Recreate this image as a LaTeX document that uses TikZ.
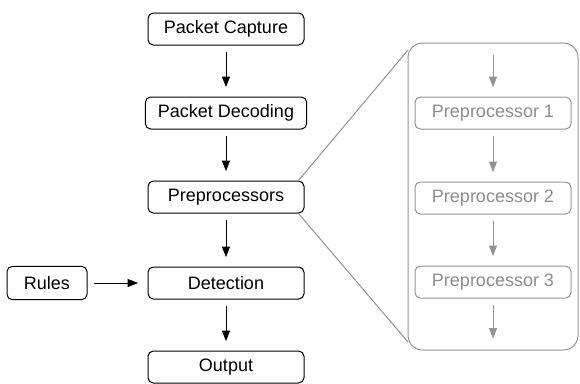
\documentclass[tikz,border=0pt]{standalone}
\usepackage{fontspec}
\setmainfont{Liberation Sans}
\usetikzlibrary{arrows.meta,calc}
\tikzset{
  stage/.style={draw, rounded corners=4pt, line width=0.75pt, minimum width=117pt, minimum height=24pt, inner sep=2pt, font=\fontsize{13.5}{15}\selectfont},
  substage/.style={stage, draw=gray!85, text=gray!90},
  flow/.style={-{Triangle[length=8pt,width=6pt]}, line width=0.75pt, shorten <=5pt, shorten >=7pt},
  subflow/.style={flow, draw=gray!85, fill=gray!85}
}
\begin{document}
\begin{tikzpicture}[x=0.75pt,y=-0.75pt]
\useasboundingbox (0,0) rectangle (580,383);
% main pipeline
\node[stage] (capture) at (226,29) {Packet Capture};
\node[stage, minimum width=121pt] (decode) at (226,113) {Packet Decoding};
\node[stage] (prep) at (226,197) {Preprocessors};
\node[stage] (detect) at (226,283) {Detection};
\node[stage] (output) at (226,367) {Output};
\node[stage, minimum width=60pt, minimum height=25pt] (rules) at (47,283) {Rules};
\draw[flow] (capture) -- (decode);
\draw[flow] (decode) -- (prep);
\draw[flow] (prep) -- (detect);
\draw[flow] (detect) -- (output);
\draw[flow] (rules) -- (detect);
% zoomed preprocessors
\draw[gray!85, line width=0.75pt, rounded corners=11pt] (408,43) rectangle (578,350);
\coordinate (ztop) at (408,50);
\coordinate (zbot) at (408,342);
\draw[gray!85, line width=0.75pt] ($(prep.north east)+(-6,0)$) -- (ztop);
\draw[gray!85, line width=0.75pt] ($(prep.south east)+(-6,0)$) -- (zbot);
\node[substage] (pre1) at (493,113) {Preprocessor 1};
\node[substage] (pre2) at (493,198) {Preprocessor 2};
\node[substage] (pre3) at (493,282) {Preprocessor 3};
\coordinate (zin) at (493,48);
\coordinate (zout) at (493,348);
\draw[subflow] (zin) -- (pre1);
\draw[subflow] (pre1) -- (pre2);
\draw[subflow] (pre2) -- (pre3);
\draw[subflow] (pre3) -- (zout);
\end{tikzpicture}
\end{document}
